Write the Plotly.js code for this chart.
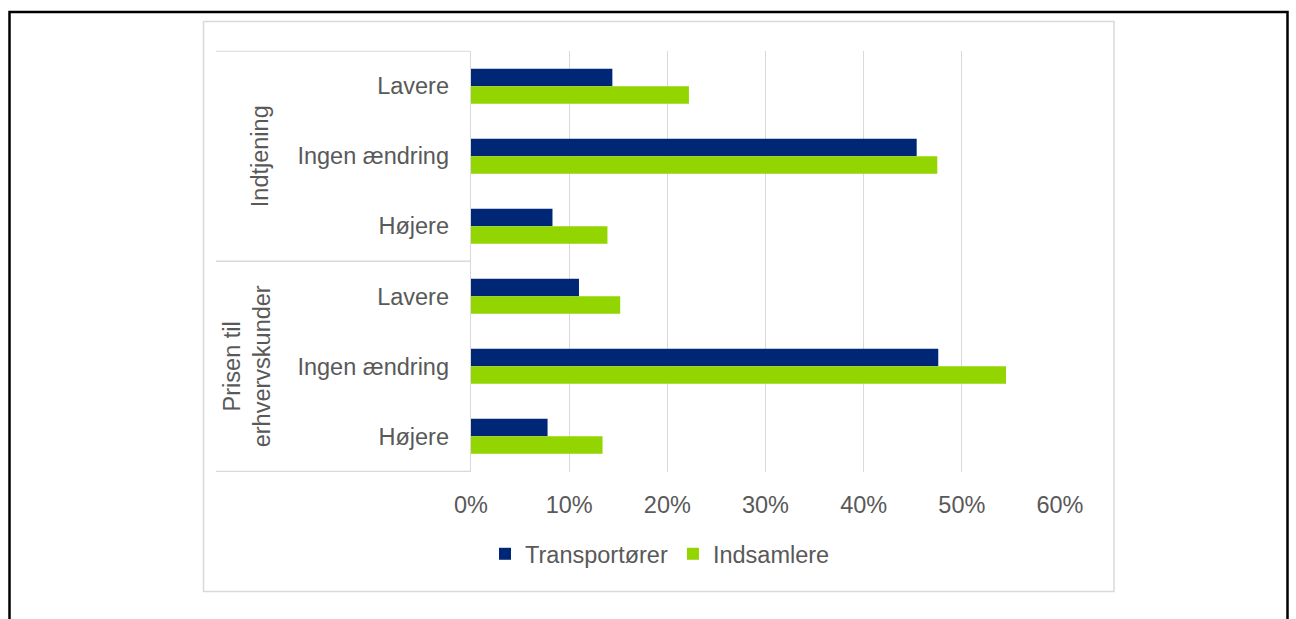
<!DOCTYPE html>
<html>
<head>
<meta charset="utf-8">
<script src="https://cdn.plot.ly/plotly-3.0.1.min.js"></script>
<style>
  html, body { margin: 0; padding: 0; background: #ffffff; }
  #chart { width: 1296px; height: 619px; }
</style>
</head>
<body>
<div id="chart"></div>
<script>
// ---- data ----
const groups = ["Indtjening", "Indtjening", "Indtjening",
                "Prisen til erhvervskunder", "Prisen til erhvervskunder", "Prisen til erhvervskunder"];
const categories = ["Lavere", "Ingen ændring", "Højere", "Lavere", "Ingen ændring", "Højere"];
const transportorer = [0.144, 0.454, 0.083, 0.110, 0.476, 0.078];
const indsamlere = [0.222, 0.475, 0.139, 0.152, 0.545, 0.134];
const seriesNames = ["Transportører", "Indsamlere"];
const groupLabels = ["Indtjening", "Prisen til<br>erhvervskunder"];
const xTickVals = [0, 0.1, 0.2, 0.3, 0.4, 0.5, 0.6];

// ---- helpers ----
const W = 1296, H = 619;
const px = v => v / W;
const py = v => 1 - v / H;
const keys = categories.map((c, i) => groups[i] + " | " + c);

const navy = "#002776";
const green = "#93d500";
const gray = "#d9d9d9";
const textColor = "#595959";
const font = "Liberation Sans, Arial, sans-serif";
const fs = 23.5;

const traces = [
  { type: "bar", orientation: "h", name: seriesNames[0], y: keys, x: transportorer,
    marker: { color: navy }, hoverinfo: "x+name" },
  { type: "bar", orientation: "h", name: seriesNames[1], y: keys, x: indsamlere,
    marker: { color: green }, hoverinfo: "x+name" }
];

const plotLeft = 471, plotRight = 1060, plotTop = 50.5, plotBottom = 472;

const layout = {
  width: W, height: H, autosize: false,
  margin: { l: 0, r: 0, t: 0, b: 0 },
  paper_bgcolor: "#ffffff", plot_bgcolor: "#ffffff",
  font: { family: font, size: fs, color: textColor },
  barmode: "group", bargap: 0.5, bargroupgap: 0,
  showlegend: true,
  legend: {
    orientation: "h", x: px(485), xanchor: "left", y: py(554), yanchor: "middle",
    font: { family: font, size: fs, color: textColor }, traceorder: "normal",
    itemwidth: 30, bgcolor: "rgba(0,0,0,0)"
  },
  xaxis: {
    domain: [px(plotLeft), px(plotRight)],
    range: [0, 0.6], tickvals: xTickVals, tickformat: ".0%",
    showgrid: true, gridcolor: gray, gridwidth: 1.3, zeroline: false,
    showline: false, ticks: "outside", ticklen: 12, tickcolor: "rgba(0,0,0,0)",
    tickfont: { family: font, size: fs, color: textColor }, fixedrange: true
  },
  yaxis: {
    domain: [py(plotBottom), py(plotTop)],
    type: "category", categoryarray: keys, categoryorder: "array",
    autorange: "reversed",
    tickvals: keys, ticktext: categories,
    showgrid: false, zeroline: false,
    showline: true, linecolor: gray, linewidth: 1.3,
    ticks: "outside", ticklen: 16, tickcolor: "rgba(0,0,0,0)",
    tickfont: { family: font, size: fs, color: textColor }, fixedrange: true
  },
  shapes: [
    // outer black frame
    { type: "rect", xref: "paper", yref: "paper", x0: px(9.5), x1: px(1287.5), y0: py(640), y1: py(12),
      line: { color: "#000000", width: 2.5 }, fillcolor: "rgba(0,0,0,0)" },
    // chart area border
    { type: "rect", xref: "paper", yref: "paper", x0: px(203.5), x1: px(1114), y0: py(591.5), y1: py(21.5),
      line: { color: gray, width: 1.5 }, fillcolor: "rgba(0,0,0,0)" },
    // group separators
    { type: "line", xref: "paper", yref: "y", x0: px(216), x1: px(plotLeft), y0: -0.5, y1: -0.5,
      line: { color: gray, width: 1.3 } },
    { type: "line", xref: "paper", yref: "y", x0: px(216), x1: px(plotLeft), y0: 2.5, y1: 2.5,
      line: { color: gray, width: 1.3 } },
    { type: "line", xref: "paper", yref: "y", x0: px(216), x1: px(plotLeft), y0: 5.5, y1: 5.5,
      line: { color: gray, width: 1.3 } }
  ],
  annotations: [
    { text: groupLabels[0], xref: "paper", yref: "y", x: px(260), y: 1, textangle: -90,
      showarrow: false, xanchor: "center", yanchor: "middle",
      font: { family: font, size: fs, color: textColor } },
    { text: groupLabels[1], xref: "paper", yref: "y", x: px(247), y: 4, textangle: -90,
      showarrow: false, xanchor: "center", yanchor: "middle", align: "center",
      font: { family: font, size: fs, color: textColor } }
  ]
};

Plotly.newPlot("chart", traces, layout, { displayModeBar: false, staticPlot: true });
</script>
</body>
</html>
